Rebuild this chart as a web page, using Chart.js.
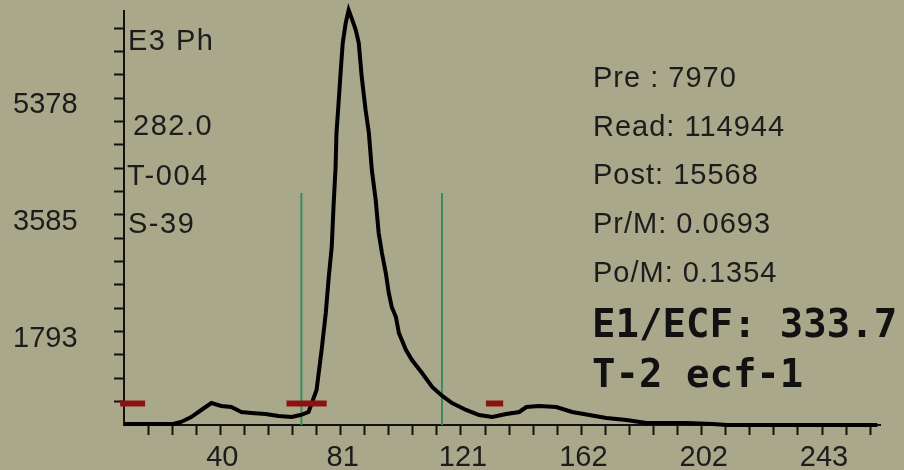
<!DOCTYPE html>
<html>
<head>
<meta charset="utf-8">
<script src="https://cdn.jsdelivr.net/npm/chart.js@4.4.1/dist/chart.umd.min.js"></script>
<style>
  html, body { margin: 0; padding: 0; background: #aaa88a; }
  canvas { display: block; }
</style>
</head>
<body>
<canvas id="chart" width="904" height="470"></canvas>
<script>
// axis steps (one minor tick each)
const X_STEP = 8.1;
const Y_STEP = 358.5;

// trace
const channels = [8.1, 24.6, 27.3, 30.7, 34.1, 37.5, 40.8, 44.2, 47.6, 51.0,
  55.7, 60.1, 64.5, 67.5, 70.2, 72.9, 74.6, 76.0, 77.0, 78.0,
  78.6, 79.3, 79.6, 80.3, 81.0, 81.7, 82.7, 83.7, 84.7, 86.1,
  87.1, 88.1, 89.4, 90.5, 91.5, 92.8, 93.8, 94.9, 96.2, 97.2,
  98.2, 99.6, 100.6, 103.0, 105.0, 108.4, 111.8, 115.2, 118.5, 123.2,
  127.6, 132.0, 136.7, 141.1, 143.5, 147.8, 153.6, 158.9, 164.7, 170.4,
  177.2, 183.9, 197.4, 206.2, 210.9, 261.6];
const counts = [374, 374, 405, 481, 589, 696, 650, 635, 558, 543,
  527, 497, 481, 512, 558, 896, 1510, 2078, 2630, 3091,
  3705, 4319, 4841, 5301, 5777, 6222, 6529, 6729, 6606, 6422,
  6222, 5700, 5194, 4841, 4273, 3812, 3306, 2999, 2692, 2385,
  2170, 2016, 1771, 1510, 1356, 1156, 942, 804, 696, 589,
  512, 481, 527, 558, 635, 650, 635, 558, 512, 466,
  435, 389, 389, 374, 359, 359];

const xTickValues = [40.5, 81, 121.5, 162, 202.5, 243];
const xTickLabels = ['40', '81', '121', '162', '202', '243'];
const yTickValues = [1792.5, 3585, 5377.5];
const yTickLabels = ['1793', '3585', '5378'];

// read window (green) and baseline marks (red)
const windowEdges = [67.8, 115.1];
const windowTop = 3920;
const baselineMarks = [[6.8, 15.2], [62.8, 76.3], [129.9, 135.7]];
const baselineLevel = 690;

const headerLines = ['E3 Ph', '282.0', 'T-004', 'S-39'];
const statLines = ['Pre : 7970', 'Read: 114944', 'Post: 15568', 'Pr/M: 0.0693', 'Po/M: 0.1354'];
const resultLines = ['E1/ECF: 333.7', 'T-2 ecf-1'];

const X_MIN = X_STEP, X_MAX = 262.5;
const Y_MIN = Y_STEP, Y_MAX = 6715;

const near = (a, b) => Math.abs(a - b) < 0.01;
const stepTicks = (step, lo, hi) => {
  const out = [];
  for (let v = step * 2; v <= hi + 0.001; v += step) if (v > lo) out.push({ value: +v.toFixed(3) });
  return out;
};

const markData = [];
baselineMarks.forEach(([a, b], i) => {
  if (i) markData.push({ x: (a + baselineMarks[i - 1][1]) / 2, y: null });
  markData.push({ x: a, y: baselineLevel }, { x: b, y: baselineLevel });
});

const windowSets = windowEdges.map(x => ({
  data: [{ x, y: Y_MIN }, { x, y: windowTop }],
  borderColor: '#3b8a62',
  borderWidth: 2,
  pointRadius: 0,
  order: 2
}));

const bg = {
  id: 'bg',
  beforeDraw(chart) {
    const { ctx, width, height } = chart;
    ctx.save();
    ctx.fillStyle = '#aaa88a';
    ctx.fillRect(0, 0, width, height);
    ctx.restore();
  }
};

const panelText = {
  id: 'panelText',
  afterDraw(chart) {
    const ctx = chart.ctx;
    const a = chart.chartArea;
    ctx.save();
    ctx.fillStyle = '#1c1c1c';
    ctx.textBaseline = 'middle';
    ctx.textAlign = 'left';
    ctx.font = '29px "Liberation Sans", Arial, sans-serif';
    ctx.letterSpacing = '1.5px';
    const hx = [4, 9, 3, 4];
    const hy = [42, 127, 177, 225];
    headerLines.forEach((t, i) => ctx.fillText(t, a.left + hx[i], hy[i]));
    ctx.letterSpacing = '1px';
    statLines.forEach((t, i) => ctx.fillText(t, 593, 79 + i * 48.7));
    ctx.letterSpacing = '0px';
    ctx.fillStyle = '#111';
    ctx.font = 'bold 39px "DejaVu Sans Mono", monospace';
    resultLines.forEach((t, i) => ctx.fillText(t, 592, 327 + i * 50));
    ctx.restore();
  }
};

new Chart(document.getElementById('chart'), {
  type: 'line',
  data: {
    datasets: [
      {
        data: markData,
        borderColor: '#8c1212',
        borderWidth: 6,
        borderCapStyle: 'butt',
        pointRadius: 0,
        spanGaps: false,
        clip: false,
        order: 0
      },
      {
        data: channels.map((x, i) => ({ x, y: counts[i] })),
        borderColor: '#000',
        borderWidth: 4,
        pointRadius: 0,
        tension: 0,
        clip: false,
        order: 1
      },
      ...windowSets
    ]
  },
  options: {
    responsive: false,
    animation: false,
    devicePixelRatio: 1,
    layout: { padding: { left: 13, top: 11, right: 24, bottom: 0 } },
    plugins: { legend: { display: false }, tooltip: { enabled: false } },
    scales: {
      x: {
        type: 'linear',
        min: X_MIN,
        max: X_MAX,
        afterBuildTicks: s => { s.ticks = stepTicks(X_STEP, X_MIN, X_MAX); },
        afterFit: s => { s.height = 45; s.paddingLeft = 0; s.paddingRight = 0; },
        border: { display: true, color: '#111', width: 2 },
        grid: { drawOnChartArea: false, drawTicks: true, tickLength: 10, tickColor: '#111', tickWidth: 2 },
        ticks: {
          autoSkip: false,
          maxRotation: 0,
          padding: 6,
          labelOffset: 2,
          color: '#1c1c1c',
          font: { family: '"Liberation Sans", Arial, sans-serif', size: 29 },
          callback: v => {
            const i = xTickValues.findIndex(t => near(t, v));
            return i < 0 ? '' : xTickLabels[i];
          }
        }
      },
      y: {
        type: 'linear',
        min: Y_MIN,
        max: Y_MAX,
        afterBuildTicks: s => { s.ticks = stepTicks(Y_STEP, Y_MIN, Y_MAX); },
        afterFit: s => { s.width = 111; s.paddingTop = 0; s.paddingBottom = 0; },
        border: { display: true, color: '#111', width: 2 },
        grid: { drawOnChartArea: false, drawTicks: true, tickLength: 10, tickColor: '#111', tickWidth: 2 },
        ticks: {
          autoSkip: false,
          crossAlign: 'far',
          labelOffset: 7,
          color: '#1c1c1c',
          font: { family: '"Liberation Sans", Arial, sans-serif', size: 29 },
          callback: v => {
            const i = yTickValues.findIndex(t => near(t, v));
            return i < 0 ? '' : yTickLabels[i];
          }
        }
      }
    }
  },
  plugins: [bg, panelText]
});
</script>
</body>
</html>
